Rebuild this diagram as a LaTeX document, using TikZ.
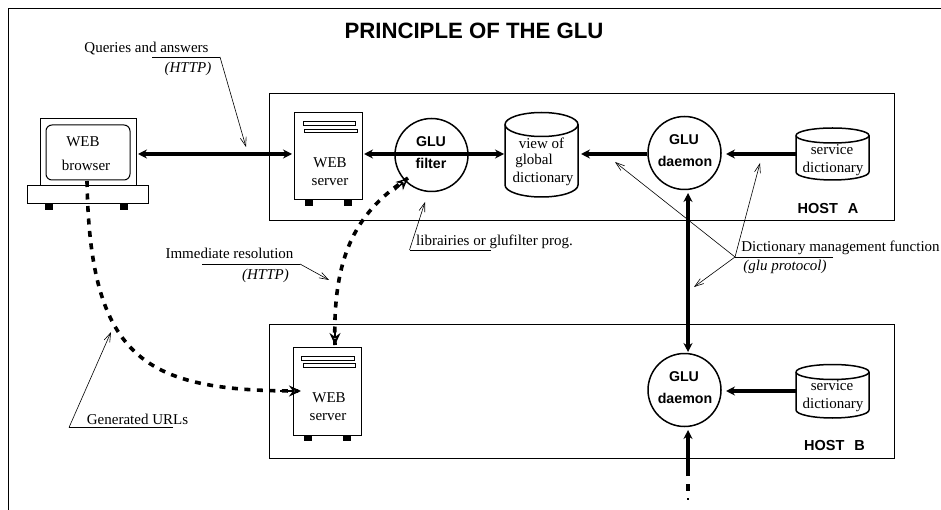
\documentclass[tikz,border=0pt]{standalone}
\usepackage{fontspec}
\setmainfont{Liberation Serif}
\newfontfamily\headfont{Liberation Sans}
\usetikzlibrary{arrows.meta,calc}
\tikzset{
  x=1pt,y=-1pt,
  hostbox/.style={draw=black,line width=1pt},
  note/.style={font=\fontsize{15}{17}\selectfont,inner sep=0pt,text=black},
  noteit/.style={note,font=\fontsize{15}{17}\selectfont\itshape},
  glu/.style={font=\headfont\bfseries\fontsize{14.2}{16}\selectfont,inner sep=0pt},
  hostlabel/.style={font=\headfont\bfseries\fontsize{14.5}{16}\selectfont,inner sep=0pt},
  circ/.style={circle,draw=black,line width=1.5pt,minimum size=73pt,inner sep=0pt},
  flow/.style={line width=3.4pt,-{Stealth[length=9pt,width=9pt]}},
  biflow/.style={line width=3.4pt,{Stealth[length=9pt,width=9pt]}-{Stealth[length=9pt,width=9pt]}},
  dflow/.style={line width=3.6pt,dash pattern=on 6pt off 6.5pt},
  dtip/.style={-{Stealth[length=12pt,width=11pt,open,line width=1.5pt]}},
  leader/.style={line width=0.6pt,-{Straight Barb[length=9pt,width=6pt,line width=0.6pt]}},
  rule/.style={line width=0.8pt},
  foot/.style={fill=black,draw=none},
}
\begin{document}
\begin{tikzpicture}
\useasboundingbox (0,0) rectangle (941,510);
\fill[white] (0,0) rectangle (941,510);
% outer frame
\draw[line width=1pt] (8.5,510) -- (8.5,8.5) -- (941,8.5);
\node[font=\headfont\bfseries\fontsize{22.2}{24}\selectfont,inner sep=0pt] (title) at (474,31) {PRINCIPLE OF THE GLU};
% hosts
\draw[hostbox] (269,94) rectangle (894,221);
\draw[hostbox] (269,324.5) rectangle (894,458);
\node[hostlabel] (hosta) at (828,209) {HOST\hspace{10pt}A};
\node[hostlabel] (hostb) at (834.5,446) {HOST\hspace{10pt}B};
% browser
\draw[hostbox] (40,119) rectangle (136,186);
\draw[hostbox,rounded corners=6pt] (46,125) rectangle (130,180);
\draw[hostbox] (27,186) rectangle (148,204);
\fill[foot] (45,204) rectangle (52.5,210.5);
\fill[foot] (120,204) rectangle (127.5,210.5);
\node[note] (wb1) at (83,142) {WEB};
\node[note] (wb2) at (86,165) {browser};
% server A
\node[draw=black,line width=1pt,minimum width=68pt,minimum height=87pt,inner sep=0pt] (srvA) at (328,156.5) {};
\draw[line width=0.9pt] (303,121.5) rectangle (355,125);
\draw[line width=0.9pt] (304,129) rectangle (357,132.5);
\fill[foot] (305,200) rectangle (312.5,206);
\fill[foot] (344,200) rectangle (351.5,206);
\node[note] (wsa1) at (330,163) {WEB};
\node[note] (wsa2) at (330,182) {server};
% server B
\node[draw=black,line width=1pt,minimum width=68pt,minimum height=88pt,inner sep=0pt] (srvB) at (327,391) {};
\draw[line width=0.9pt] (301.5,356) rectangle (354,360);
\draw[line width=0.9pt] (303,363.5) rectangle (355.5,367.5);
\fill[foot] (304,435) rectangle (311.5,441);
\fill[foot] (343,435) rectangle (350.5,441);
\node[note] (wsb1) at (329,398) {WEB};
\node[note] (wsb2) at (328,417) {server};
% circles
\node[circ] (filter) at (431.5,155) {};
\node[glu] (f1t) at (431,142) {GLU};
\node[glu] (f2t) at (431,163.5) {filter};
\node[circ] (dmA) at (684.5,153) {};
\node[glu] (da1) at (684,140) {GLU};
\node[glu] (da2) at (685,161) {daemon};
\node[circ] (dmB) at (684.5,390) {};
\node[glu] (db1) at (684,377) {GLU};
\node[glu] (db2) at (685,398) {daemon};
% cylinders
\draw[line width=1.5pt] (505,124.5) arc[start angle=180,end angle=-180,x radius=36.5,y radius=12];
\draw[line width=1.5pt] (505,124.5) -- (505,185) arc[start angle=180,end angle=0,x radius=36.5,y radius=12] -- (578,124.5);
\coordinate (viewL) at (505,154);
\coordinate (viewR) at (578,154);
\node[note] (v1) at (541.5,143) {view of};
\node[note] (v2) at (534,161) {global};
\node[note] (v3) at (543,179) {dictionary};
\draw[line width=1.5pt] (796,135.5) arc[start angle=180,end angle=-180,x radius=36.5,y radius=7.5];
\draw[line width=1.5pt] (796,135.5) -- (796,172) arc[start angle=180,end angle=0,x radius=36.5,y radius=8] -- (869,135.5);
\coordinate (svcA) at (796,154);
\node[note] (sa1) at (832,150) {service};
\node[note] (sa2) at (833,169) {dictionary};
\draw[line width=1.5pt] (796,372) arc[start angle=180,end angle=-180,x radius=36.5,y radius=7.5];
\draw[line width=1.5pt] (796,372) -- (796,410) arc[start angle=180,end angle=0,x radius=36.5,y radius=8] -- (869,372);
\coordinate (svcB) at (796,391);
\node[note] (sb1) at (832,386) {service};
\node[note] (sb2) at (833,405) {dictionary};
% thick arrows
\coordinate (a1) at (138,154); \coordinate (a2) at (292,154);
\draw[biflow] (a1) -- (a2);
\coordinate (f1) at (364,154); \coordinate (f2) at (504,154);
\draw[biflow] (f1) -- (f2);
\coordinate (d1) at (581,154);
\draw[flow] (dmA.west |- d1) -- (d1);
\coordinate (s1) at (726,154);
\draw[flow] (svcA) -- (s1);
\coordinate (u1) at (688,193); \coordinate (u2) at (688,352);
\draw[biflow] (u1) -- (u2);
\coordinate (s2) at (726,391);
\draw[flow] (svcB) -- (s2);
\coordinate (b0) at (688,476); \coordinate (b1) at (688,430);
\draw[flow] (b0) -- (b1);
\coordinate (b2) at (688,484); \coordinate (b3) at (688,491);
\draw[line width=3.4pt] (b2) -- (b3);
\coordinate (b4) at (688,498); \coordinate (b5) at (688,499.5);
\draw[line width=1.5pt] (b4) -- (b5);
% dashed curves
\coordinate (c0) at (87,181);
\coordinate (c1) at (298,391);
\coordinate (c2) at (301,391);
\draw[dflow] (c0) .. controls (90,360) and (145,391) .. (c1);
\draw[line width=1.5pt,dtip] (280,391) -- (c2);
\coordinate (e0) at (335,345);
\coordinate (e1) at (408,178);
\draw[dflow] (e0) .. controls (332,250) and (360,210) .. (e1);
\draw[line width=1.5pt,dtip] (335,330) -- (e0);
\draw[line width=1.5pt,dtip] (395,190) -- (e1);
% leaders
\node[note] (q) at (146.5,48.5) {Queries and answers};
\node[noteit] (qh) at (188,69) {(HTTP)};
\coordinate (q0) at (152,57); \coordinate (q1) at (220,57); \coordinate (q2) at (246,147);
\draw[rule] (q0) -- (q1);
\draw[leader] (q1) -- (q2);
\node[note] (ir) at (229.5,253) {Immediate resolution};
\node[noteit] (irh) at (265.5,276) {(HTTP)};
\coordinate (i0) at (202,264); \coordinate (i1) at (300,264); \coordinate (i2) at (329,280);
\draw[rule] (i0) -- (i1);
\draw[leader] (i1) -- (i2);
\node[note] (gu) at (137.5,419) {Generated URLs};
\coordinate (g0) at (173,427.5); \coordinate (g1) at (69,427.5); \coordinate (g2) at (111,332);
\draw[rule] (g0) -- (g1);
\draw[leader] (g1) -- (g2);
\node[note] (li) at (494.5,242) {librairies or glufilter prog.};
\coordinate (l0) at (491,250); \coordinate (l1) at (409.5,250); \coordinate (l2) at (425,202);
\draw[rule] (l0) -- (l1);
\draw[leader] (l1) -- (l2);
\node[note] (dm) at (840.5,248) {Dictionary management function};
\node[noteit] (dmh) at (785,267) {(glu protocol)};
\coordinate (m0) at (833,257); \coordinate (m1) at (735,257);
\coordinate (m2) at (615,162); \coordinate (m3) at (760,163); \coordinate (m4) at (694,287);
\draw[rule] (m0) -- (m1);
\draw[leader] (m1) -- (m2);
\draw[leader] (m1) -- (m3);
\draw[leader] (m1) -- (m4);
\end{tikzpicture}
\end{document}
